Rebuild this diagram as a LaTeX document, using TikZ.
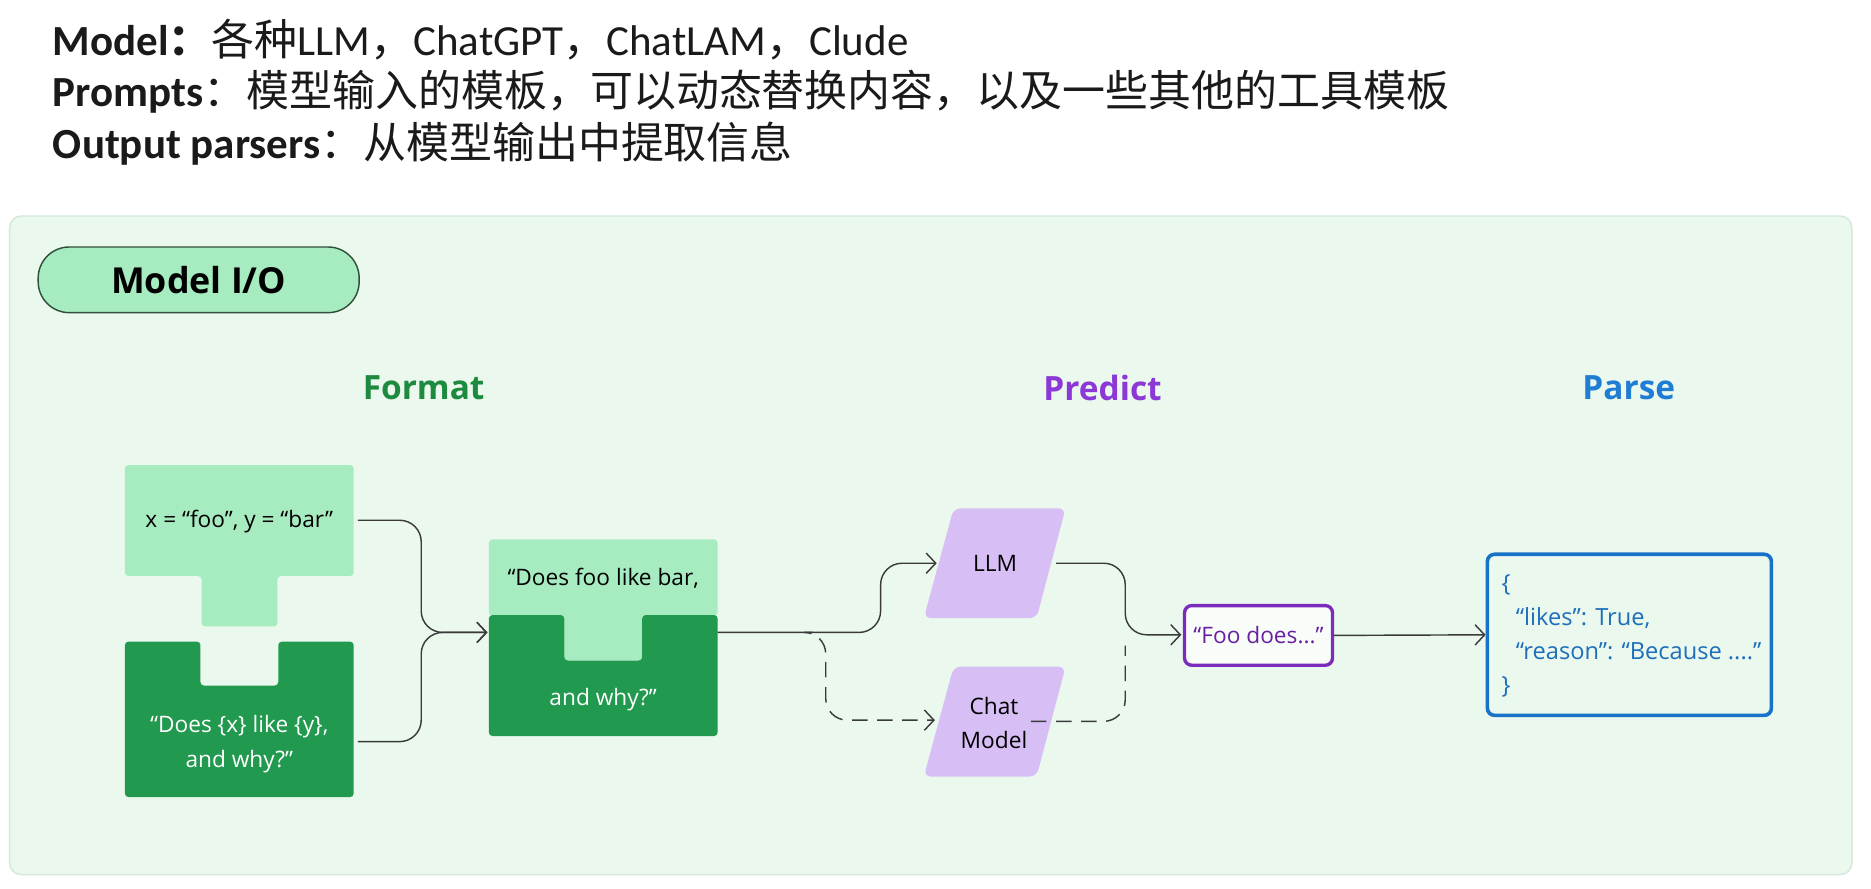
\documentclass[tikz,border=0pt]{standalone}
\usepackage{fontspec}
\setmainfont{Open Sans}
\newfontfamily\cjk{Noto Sans CJK SC}
\newfontfamily\latf{Carlito}
\usetikzlibrary{arrows.meta,calc}
\definecolor{panelfill}{HTML}{EAF8EE}
\definecolor{panelborder}{HTML}{D3E9DA}
\definecolor{lightg}{HTML}{A7EBC0}
\definecolor{darkg}{HTML}{21994F}
\definecolor{formatc}{HTML}{1E8A3F}
\definecolor{predictc}{HTML}{8B38D6}
\definecolor{parsec}{HTML}{1F7DD4}
\definecolor{parac}{HTML}{D7BEF4}
\definecolor{foob}{HTML}{7B2CBD}
\definecolor{foot}{HTML}{6A1FA1}
\definecolor{jsonb}{HTML}{1872C8}
\definecolor{jsont}{HTML}{1D6FBA}
\definecolor{linec}{HTML}{3A3A3A}
\definecolor{pillb}{HTML}{2F4F3A}
\definecolor{hdrc}{HTML}{1A1A1A}
\newcommand\zh[1]{{\cjk #1}}
\newcommand\zhb[1]{{\cjk\bfseries #1}}
\begin{document}
\begin{tikzpicture}[x=0.5pt,y=-0.5pt,
  hdr/.style={anchor=west, inner sep=0pt, text=hdrc, font=\latf\fontsize{18}{22}\selectfont},
  sect/.style={inner sep=0pt, font=\bfseries\fontsize{14}{17}\selectfont},
  boxtxt/.style={inner sep=0pt, align=center, font=\fontsize{9.5}{14.5}\selectfont},
  conn/.style={draw=linec, line width=0.6pt, rounded corners=9pt,
     -{Straight Barb[length=4pt,width=8.5pt,line width=0.6pt]}},
  dconn/.style={conn, dash pattern=on 6.5pt off 4pt},
  plain/.style={draw=linec, line width=0.6pt, rounded corners=9pt},
  dplain/.style={plain, dash pattern=on 6.5pt off 4pt}]
\useasboundingbox (0,0) rectangle (1568,745);
\fill[white] (0,0) rectangle (1568,745);
% header
\node[hdr] (h1) at (44,33) {\textbf{Model}\zhb{：}\zh{各种}LLM\zh{，}ChatGPT\zh{，}ChatLAM\zh{，}Clude};
\node[hdr] (h2) at (44,77) {\textbf{Prompts}\zh{：模型输入的模板，可以动态替换内容，以及一些其他的工具模板}};
\node[hdr] (h3) at (44,120) {\textbf{Output parsers}\zh{：从模型输出中提取信息}};
% panel
\draw[fill=panelfill, draw=panelborder, line width=0.6pt, rounded corners=5pt] (8,181) rectangle (1552,733);
\node[draw=pillb, fill=lightg, line width=0.6pt, rounded corners=13pt, minimum width=134.5pt, minimum height=27.5pt,
  font=\bfseries\fontsize{15}{18}\selectfont] (mio) at (166.5,234.5) {Model I/O};
% section labels
\node[sect, text=formatc] (fmt) at (355,325) {Format};
\node[sect, text=predictc] (prd) at (924,325) {Predict};
\node[sect, text=parsec] (prs) at (1365,325) {Parse};
% input variables piece
\fill[lightg, rounded corners=1.5pt] (104.7,389.7) -- (296.4,389.7) -- (296.4,482.7) -- (232.5,482.7) -- (232.5,525) -- (169,525) -- (169,482.7) -- (104.7,482.7) -- cycle;
\node[boxtxt] (xy) at (200.5,437) {x = “foo”, y = “bar”};
% template piece
\fill[darkg, rounded corners=1.5pt] (104.7,537.7) -- (168,537.7) -- (168,574.6) -- (233.2,574.6) -- (233.2,537.7) -- (296.4,537.7) -- (296.4,668) -- (104.7,668) -- cycle;
\node[boxtxt, text=white] (tpl) at (200.5,623.5) {“Does \{x\} like \{y\},\\and why?”};
% combined piece
\fill[lightg, rounded corners=1.5pt] (409.7,452) -- (601.4,452) -- (601.4,516) -- (538.2,516) -- (538.2,553.6) -- (472.9,553.6) -- (472.9,516) -- (409.7,516) -- cycle;
\fill[darkg, rounded corners=1.5pt] (409.7,515.4) -- (472.9,515.4) -- (472.9,553.6) -- (538.2,553.6) -- (538.2,515.4) -- (601.4,515.4) -- (601.4,616.8) -- (409.7,616.8) -- cycle;
\node[boxtxt] (cmb1) at (505.5,484.6) {“Does foo like bar,};
\node[boxtxt, text=white] (cmb2) at (505.5,586.6) {and why?”};
% LLM and chat model
\fill[parac, rounded corners=3pt] (799.2,426) -- (893,426) -- (868.7,518) -- (774.2,518) -- cycle;
\node[boxtxt] (llm) at (834,472.5) {LLM};
\fill[parac, rounded corners=3pt] (799.2,558.7) -- (893,558.7) -- (868.7,650.8) -- (774.2,650.8) -- cycle;
\node[boxtxt] (chat) at (833,606) {Chat\\Model};
% output
\node[draw=foob, line width=1.4pt, fill=white!70!panelfill, rounded corners=3pt, minimum width=62pt, minimum height=25pt,
  inner sep=0pt, text=foot, font=\fontsize{9.5}{12}\selectfont] (foo) at (1054.7,532.5) {“Foo does...”};
\node[draw=jsonb, line width=1.5pt, rounded corners=3pt, minimum width=119pt, minimum height=67.5pt, inner sep=0pt] (json) at (1365.5,532) {};
\node[anchor=west, inner sep=0pt, align=left, text=jsont, font=\fontsize{9.9}{14.3}\selectfont] (jtxt) at (1258,533) {\{\\\hspace*{6pt}“likes”: True,\\\hspace*{6pt}“reason”: “Because ....”\\\}};
% connector coordinates
\coordinate (xyout) at (300,436);
\coordinate (tplout) at (300,621.5);
\coordinate (j1) at (353,530);
\coordinate (cmbin) at (408.5,530);
\coordinate (cmbout) at (601.4,530);
\coordinate (up) at (738,472);
\coordinate (llmin) at (785,472);
\coordinate (br) at (681,530);
\coordinate (dn) at (692,603.5);
\coordinate (chatin) at (783.5,603.5);
\coordinate (llmout) at (885,472);
\coordinate (j2) at (943,532);
\coordinate (fooin) at (990,532);
\coordinate (chatout) at (864,604.5);
\coordinate (j3) at (943,541);
% connectors
\draw[conn] (xyout) -| (j1) -- (cmbin);
\draw[conn] (tplout) -| (j1) -- (cmbin);
\draw[conn] (cmbout) -| (up) -- (llmin);
\draw[dconn] (br) -| (dn) -- (chatin);
\draw[conn] (llmout) -| (j2) -- (fooin);
\draw[dplain] (chatout) -| (j3);
\draw[conn] (foo.east) -- (json.west);
\end{tikzpicture}
\end{document}
